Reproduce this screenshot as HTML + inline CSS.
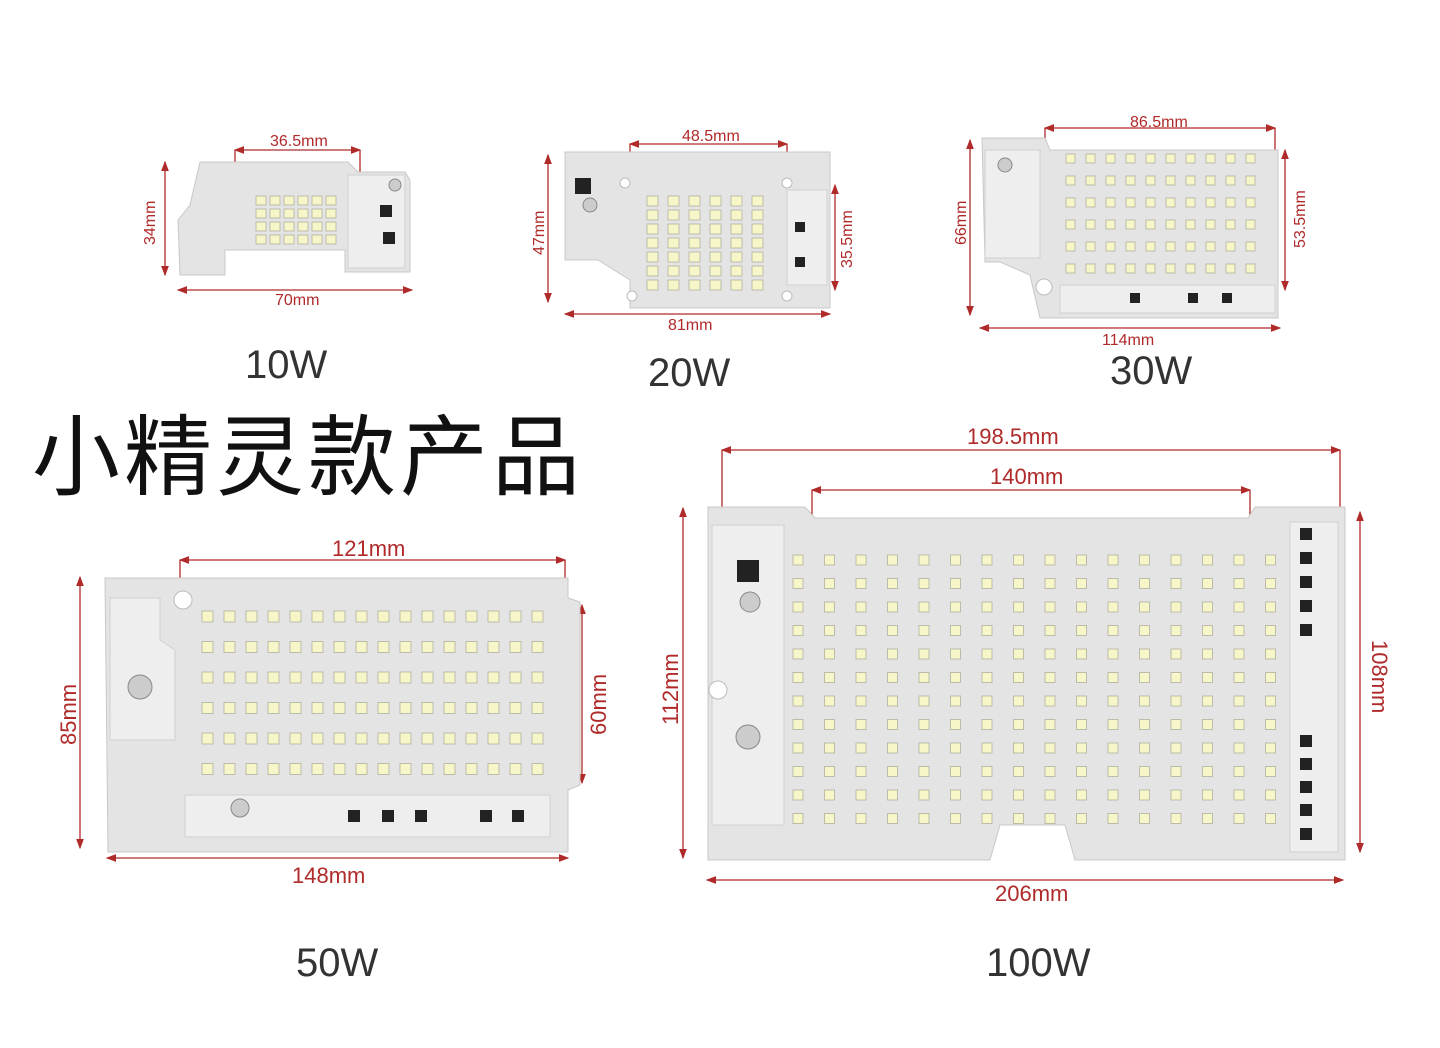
<!DOCTYPE html>
<html><head><meta charset="utf-8"><style>
html,body{margin:0;padding:0;background:#fff;width:1440px;height:1048px;overflow:hidden}
svg{display:block}
.d{fill:#b02a2a;font-family:"Liberation Sans",sans-serif;font-size:16px}
.w{fill:#333;font-family:"Liberation Sans",sans-serif;font-size:40px}
</style></head><body>
<svg width="1440" height="1048" viewBox="0 0 1440 1048" xmlns="http://www.w3.org/2000/svg">
<defs>
<marker id="a" markerWidth="8" markerHeight="8" refX="7" refY="4" orient="auto-start-reverse"><path d="M0,1 L8,4 L0,7z" fill="#b02a2a"/></marker>
<pattern id="l10" x="255" y="195" width="14" height="13" patternUnits="userSpaceOnUse"><rect x="1" y="1" width="10" height="9" fill="#f6f6c8" stroke="#b0b0a0" stroke-width="0.8"/></pattern>
<pattern id="l20" x="645" y="195" width="21" height="14" patternUnits="userSpaceOnUse"><rect x="2" y="1" width="11" height="10" fill="#f6f6c8" stroke="#b0b0a0" stroke-width="0.8"/></pattern>
<pattern id="l30" x="1063" y="152" width="20" height="22" patternUnits="userSpaceOnUse"><rect x="3" y="2" width="9" height="9" fill="#f6f6c8" stroke="#b0b0a0" stroke-width="0.8"/></pattern>
<pattern id="l50" x="200" y="608" width="22" height="30.5" patternUnits="userSpaceOnUse"><rect x="2" y="3" width="11" height="11" fill="#f6f6c8" stroke="#b0b0a0" stroke-width="0.8"/></pattern>
<pattern id="l100" x="790" y="552" width="31.5" height="23.5" patternUnits="userSpaceOnUse"><rect x="3" y="3" width="10" height="10" fill="#f6f6c8" stroke="#b0b0a0" stroke-width="0.8"/></pattern>
</defs>
<g stroke="#b02a2a" stroke-width="1.3" fill="none">
<line x1="235" y1="150" x2="360" y2="150" marker-start="url(#a)" marker-end="url(#a)"/>
<line x1="235" y1="150" x2="235" y2="205"/><line x1="360" y1="150" x2="360" y2="205"/>
<line x1="165" y1="162" x2="165" y2="275" marker-start="url(#a)" marker-end="url(#a)"/>
<line x1="178" y1="290" x2="412" y2="290" marker-start="url(#a)" marker-end="url(#a)"/>
<line x1="630" y1="144" x2="787" y2="144" marker-start="url(#a)" marker-end="url(#a)"/>
<line x1="630" y1="144" x2="630" y2="185"/><line x1="787" y1="144" x2="787" y2="185"/>
<line x1="548" y1="155" x2="548" y2="302" marker-start="url(#a)" marker-end="url(#a)"/>
<line x1="835" y1="185" x2="835" y2="290" marker-start="url(#a)" marker-end="url(#a)"/>
<line x1="565" y1="314" x2="830" y2="314" marker-start="url(#a)" marker-end="url(#a)"/>
<line x1="1045" y1="128" x2="1275" y2="128" marker-start="url(#a)" marker-end="url(#a)"/>
<line x1="1045" y1="128" x2="1045" y2="150"/><line x1="1275" y1="128" x2="1275" y2="150"/>
<line x1="970" y1="140" x2="970" y2="315" marker-start="url(#a)" marker-end="url(#a)"/>
<line x1="1285" y1="150" x2="1285" y2="290" marker-start="url(#a)" marker-end="url(#a)"/>
<line x1="980" y1="328" x2="1280" y2="328" marker-start="url(#a)" marker-end="url(#a)"/>
<line x1="180" y1="560" x2="565" y2="560" marker-start="url(#a)" marker-end="url(#a)"/>
<line x1="180" y1="560" x2="180" y2="600"/><line x1="565" y1="560" x2="565" y2="600"/>
<line x1="80" y1="577" x2="80" y2="848" marker-start="url(#a)" marker-end="url(#a)"/>
<line x1="582" y1="605" x2="582" y2="783" marker-start="url(#a)" marker-end="url(#a)"/>
<line x1="107" y1="858" x2="568" y2="858" marker-start="url(#a)" marker-end="url(#a)"/>
<line x1="722" y1="450" x2="1340" y2="450" marker-start="url(#a)" marker-end="url(#a)"/>
<line x1="722" y1="450" x2="722" y2="510"/><line x1="1340" y1="450" x2="1340" y2="510"/>
<line x1="812" y1="490" x2="1250" y2="490" marker-start="url(#a)" marker-end="url(#a)"/>
<line x1="812" y1="490" x2="812" y2="515"/><line x1="1250" y1="490" x2="1250" y2="515"/>
<line x1="683" y1="508" x2="683" y2="858" marker-start="url(#a)" marker-end="url(#a)"/>
<line x1="1360" y1="512" x2="1360" y2="852" marker-start="url(#a)" marker-end="url(#a)"/>
<line x1="707" y1="880" x2="1343" y2="880" marker-start="url(#a)" marker-end="url(#a)"/>
</g>
<g fill="#e4e4e4" stroke="#c8c8c8">
<path d="M200,162 L348,162 L358,172 L405,172 L410,180 L410,272 L345,272 L345,250 L225,250 L225,275 L180,275 L178,220 L190,205 Z"/>
<path d="M565,152 L830,152 L830,308 L630,308 L630,280 L598,260 L565,260 Z"/>
<path d="M982,138 L1045,138 L1050,150 L1278,150 L1278,318 L1040,318 L1030,275 L1000,262 L985,262 Z"/>
<path d="M105,578 L568,578 L568,598 L580,602 L580,785 L568,790 L568,852 L108,852 Z"/>
<path d="M708,507 L805,507 L815,518 L1248,518 L1255,507 L1345,507 L1345,860 L1075,860 L1065,825 L1000,825 L990,860 L708,860 Z"/>
</g>
<g fill="#eeeeee" stroke="#d0d0d0">
<path d="M348,175 L405,175 L405,268 L348,268 Z"/>
<rect x="787" y="190" width="40" height="95"/>
<path d="M985,150 L1040,150 L1040,258 L985,258 Z"/>
<rect x="1060" y="285" width="215" height="28"/>
<path d="M110,598 L160,598 L160,640 L175,650 L175,740 L110,740 Z"/>
<rect x="185" y="795" width="365" height="42"/>
<rect x="712" y="525" width="72" height="300"/>
<rect x="1290" y="522" width="48" height="330"/>
</g>
<rect x="255" y="195" width="84" height="52" fill="url(#l10)"/>
<rect x="645" y="195" width="126" height="98" fill="url(#l20)"/>
<rect x="1063" y="152" width="200" height="132" fill="url(#l30)"/>
<rect x="200" y="608" width="352" height="183" fill="url(#l50)"/>
<rect x="790" y="552" width="504" height="282" fill="url(#l100)"/>
<g fill="#222">
<rect x="380" y="205" width="12" height="12"/><rect x="383" y="232" width="12" height="12"/>
<rect x="575" y="178" width="16" height="16"/><rect x="795" y="222" width="10" height="10"/><rect x="795" y="257" width="10" height="10"/>
<rect x="1130" y="293" width="10" height="10"/><rect x="1188" y="293" width="10" height="10"/><rect x="1222" y="293" width="10" height="10"/>
<rect x="348" y="810" width="12" height="12"/><rect x="382" y="810" width="12" height="12"/><rect x="415" y="810" width="12" height="12"/><rect x="480" y="810" width="12" height="12"/><rect x="512" y="810" width="12" height="12"/>
<rect x="737" y="560" width="22" height="22"/>
<rect x="1300" y="528" width="12" height="12"/><rect x="1300" y="552" width="12" height="12"/><rect x="1300" y="576" width="12" height="12"/><rect x="1300" y="600" width="12" height="12"/><rect x="1300" y="624" width="12" height="12"/>
<rect x="1300" y="735" width="12" height="12"/><rect x="1300" y="758" width="12" height="12"/><rect x="1300" y="781" width="12" height="12"/><rect x="1300" y="804" width="12" height="12"/><rect x="1300" y="828" width="12" height="12"/>
</g>
<g fill="#ccc" stroke="#888">
<circle cx="395" cy="185" r="6"/><circle cx="590" cy="205" r="7"/><circle cx="1005" cy="165" r="7"/>
<circle cx="140" cy="687" r="12"/><circle cx="240" cy="808" r="9"/><circle cx="750" cy="602" r="10"/><circle cx="748" cy="737" r="12"/>
</g>
<g fill="#fff" stroke="#bbb"><circle cx="625" cy="183" r="5"/><circle cx="787" cy="183" r="5"/><circle cx="632" cy="296" r="5"/><circle cx="787" cy="296" r="5"/><circle cx="1044" cy="287" r="8"/><circle cx="183" cy="600" r="9"/><circle cx="718" cy="690" r="9"/></g>
<g class="d">
<text x="270" y="146">36.5mm</text>
<text x="155" y="245" transform="rotate(-90 155 245)">34mm</text>
<text x="275" y="305">70mm</text>
<text x="682" y="141">48.5mm</text>
<text x="544" y="255" transform="rotate(-90 544 255)">47mm</text>
<text x="852" y="268" transform="rotate(-90 852 268)">35.5mm</text>
<text x="668" y="330">81mm</text>
<text x="1130" y="127">86.5mm</text>
<text x="966" y="245" transform="rotate(-90 966 245)">66mm</text>
<text x="1305" y="248" transform="rotate(-90 1305 248)">53.5mm</text>
<text x="1102" y="345">114mm</text>
<text x="332" y="556" font-size="22">121mm</text>
<text x="76" y="745" font-size="22" transform="rotate(-90 76 745)">85mm</text>
<text x="606" y="735" font-size="22" transform="rotate(-90 606 735)">60mm</text>
<text x="292" y="883" font-size="22">148mm</text>
<text x="967" y="444" font-size="22">198.5mm</text>
<text x="990" y="484" font-size="22">140mm</text>
<text x="678" y="725" font-size="22" transform="rotate(-90 678 725)">112mm</text>
<text x="1372" y="640" font-size="22" transform="rotate(90 1372 640)">108mm</text>
<text x="995" y="901" font-size="22">206mm</text>
</g>
<text class="w" x="245" y="378">10W</text>
<text class="w" x="648" y="386">20W</text>
<text class="w" x="1110" y="384">30W</text>
<text class="w" x="296" y="976">50W</text>
<text class="w" x="986" y="976">100W</text>
<text x="32" y="488" fill="#111" font-size="88" letter-spacing="4" font-family="'Liberation Sans','Noto Sans CJK SC',sans-serif">小精灵款产品</text>
</svg>
</body></html>
